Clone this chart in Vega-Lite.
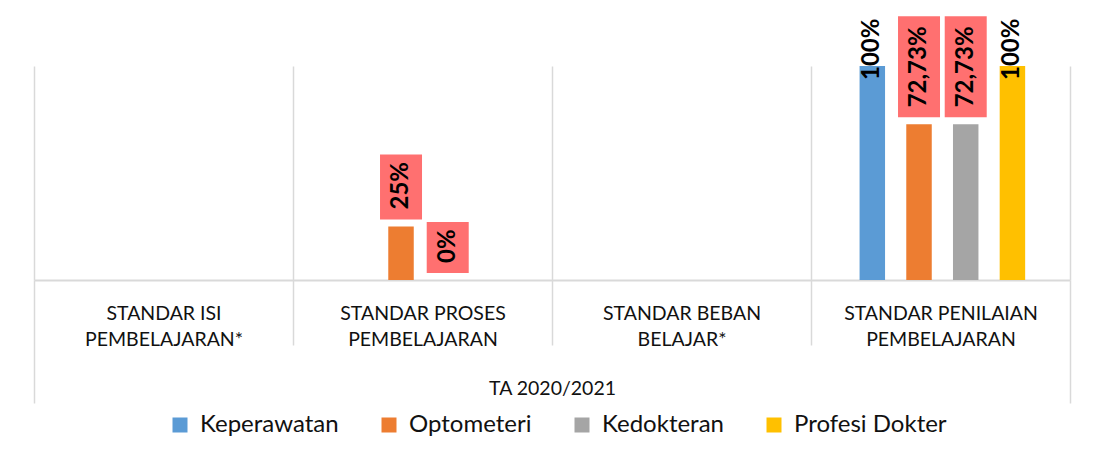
{
  "$schema": "https://vega.github.io/schema/vega-lite/v6.json",
  "width": 1036,
  "height": 214,
  "autosize": {"type": "none"},
  "padding": {"left": 34, "top": 66, "right": 26, "bottom": 179},
  "background": "white",
  "config": {
    "view": {"stroke": null},
    "font": "Lato",
    "locale": {"number": {"decimal": ",", "thousands": ".", "grouping": [3], "currency": ["", ""]}}
  },
  "data": {
    "values": [
      {"standar": "STANDAR PROSES PEMBELAJARAN", "prodi": "Optometeri", "nilai": 0.25},
      {"standar": "STANDAR PROSES PEMBELAJARAN", "prodi": "Kedokteran", "nilai": 0},
      {"standar": "STANDAR PENILAIAN PEMBELAJARAN", "prodi": "Keperawatan", "nilai": 1},
      {"standar": "STANDAR PENILAIAN PEMBELAJARAN", "prodi": "Optometeri", "nilai": 0.7273},
      {"standar": "STANDAR PENILAIAN PEMBELAJARAN", "prodi": "Kedokteran", "nilai": 0.7273},
      {"standar": "STANDAR PENILAIAN PEMBELAJARAN", "prodi": "Profesi Dokter", "nilai": 1}
    ]
  },
  "encoding": {
    "x": {
      "field": "standar",
      "type": "nominal",
      "title": "TA 2020/2021",
      "scale": {
        "domain": ["STANDAR ISI PEMBELAJARAN*", "STANDAR PROSES PEMBELAJARAN", "STANDAR BEBAN BELAJAR*", "STANDAR PENILAIAN PEMBELAJARAN"],
        "paddingInner": 0,
        "paddingOuter": 0
      },
      "axis": {
        "tickBand": "extent",
        "grid": true,
        "gridColor": "#d9d9d9",
        "gridWidth": 1.5,
        "domainColor": "#d9d9d9",
        "domainWidth": 2,
        "tickColor": "#d9d9d9",
        "tickWidth": 1.5,
        "tickSize": {"condition": {"test": "datum.extra || datum.value == 'STANDAR PENILAIAN PEMBELAJARAN'", "value": 123}, "value": 65},
        "labelAngle": 0,
        "labelFont": "Lato",
        "labelFontSize": 19.5,
        "labelColor": "#111111",
        "labelPadding": {"condition": {"test": "datum.value == 'STANDAR PENILAIAN PEMBELAJARAN'", "value": -99}, "value": -41},
        "labelLineHeight": 26.7,
        "labelLimit": 400,
        "labelExpr": "[join(slice(split(datum.label, ' '), 0, 2), ' '), join(slice(split(datum.label, ' '), 2), ' ')]",
        "titleFont": "Lato",
        "titleFontSize": 19.5,
        "titleFontWeight": "normal",
        "titleColor": "#111111",
        "titleY": 114,
        "titleBaseline": "alphabetic"
      }
    },
    "xOffset": {
      "field": "prodi",
      "type": "nominal",
      "scale": {"domain": ["Keperawatan", "Optometeri", "Kedokteran", "Profesi Dokter"], "paddingInner": 0.4545, "paddingOuter": 1.345, "align": 0.52}
    },
    "y": {"field": "nilai", "type": "quantitative", "scale": {"domain": [0, 1]}, "axis": null}
  },
  "layer": [
    {
      "mark": {"type": "bar"},
      "encoding": {
        "color": {
          "field": "prodi",
          "type": "nominal",
          "scale": {"domain": ["Keperawatan", "Optometeri", "Kedokteran", "Profesi Dokter"], "range": ["#5B9BD5", "#ED7D31", "#A5A5A5", "#FFC000"]},
          "legend": {
            "orient": "none",
            "direction": "horizontal",
            "legendX": 134,
            "legendY": 347,
            "title": null,
            "padding": 0,
            "symbolType": "square",
            "symbolSize": 225,
            "symbolStrokeWidth": 0,
            "labelFont": "Lato",
            "labelFontSize": 24,
            "labelColor": "#111111",
            "labelOffset": 8,
            "columnPadding": 38,
            "labelLimit": 400
          }
        }
      }
    },
    {
      "transform": [{"filter": "datum.nilai > 0.5 && datum.nilai < 1"}],
      "mark": {"type": "bar", "color": "#FF7070", "width": 42, "yOffset": -108, "y2Offset": -7},
      "encoding": {"y2": {"field": "nilai"}}
    },
    {
      "transform": [{"filter": "datum.nilai > 0.1 && datum.nilai < 0.5"}],
      "mark": {"type": "bar", "color": "#FF7070", "width": 42, "yOffset": -72, "y2Offset": -7},
      "encoding": {"y2": {"field": "nilai"}}
    },
    {
      "transform": [{"filter": "datum.nilai == 0"}],
      "mark": {"type": "bar", "color": "#FF7070", "width": 42, "yOffset": -58, "y2Offset": -7},
      "encoding": {"y2": {"field": "nilai"}}
    },
    {
      "transform": [{"filter": "datum.nilai < 1"}],
      "mark": {"type": "text", "angle": 270, "align": "left", "baseline": "middle", "dx": 17, "font": "Lato", "fontSize": 24, "fontWeight": "bold", "color": "#000000"},
      "encoding": {"text": {"field": "nilai", "type": "quantitative", "format": ".2~%"}}
    },
    {
      "transform": [{"filter": "datum.nilai == 1"}],
      "mark": {"type": "text", "angle": 270, "align": "left", "baseline": "middle", "dx": -14, "font": "Lato", "fontSize": 24, "fontWeight": "bold", "color": "#000000"},
      "encoding": {"text": {"field": "nilai", "type": "quantitative", "format": ".2~%"}}
    }
  ]
}
